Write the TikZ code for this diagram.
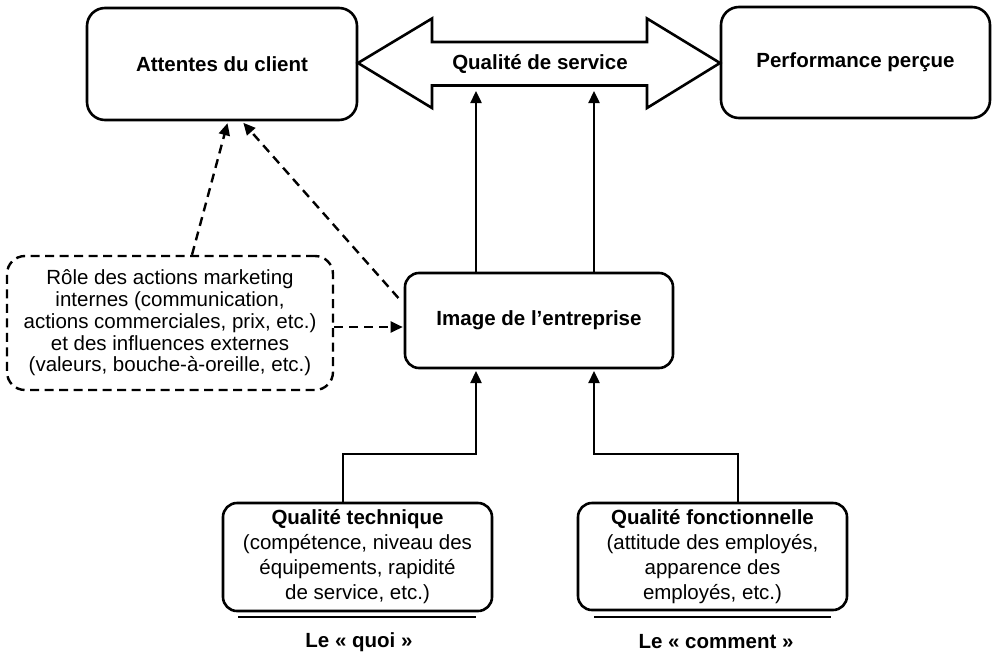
\documentclass[tikz,border=0pt]{standalone}
\usepackage{fontspec}
\setmainfont{Liberation Sans}
\usetikzlibrary{arrows.meta}
\begin{document}
\begin{tikzpicture}[x=1pt,y=-1pt,
  bigbox/.style={draw, line width=2.6pt, rounded corners=18pt, align=center, inner sep=0pt,
    font=\fontsize{20.5}{25}\selectfont\bfseries},
  midbox/.style={draw, line width=2.6pt, rounded corners=14pt, align=center, inner sep=0pt,
    font=\fontsize{20.5}{25}\selectfont},
  dashbox/.style={draw, line width=2.4pt, dash pattern=on 9pt off 5.5pt, rounded corners=18pt,
    align=center, inner sep=0pt, font=\fontsize{20.5}{21.7}\selectfont},
  lbl/.style={font=\fontsize{20.5}{25}\selectfont\bfseries, inner sep=0pt},
  arr/.style={line width=2.4pt, -{Triangle[length=12pt,width=11pt]}},
  darr/.style={line width=2.4pt, dash pattern=on 9pt off 6pt, -{Triangle[length=12pt,width=11pt]}},
  uline/.style={line width=2.8pt}]
\useasboundingbox (0,0) rectangle (992,653);

% top row
\node[bigbox, minimum width=270pt, minimum height=112pt] (att) at (222,64) {Attentes du client};
\node[bigbox, minimum width=269pt, minimum height=111pt] (perf) at (855.5,62.5) {Performance perçue};
\draw[line width=2.6pt, line join=miter]
  (358,63) -- (432,18.5) -- (432,42) -- (647,42) -- (647,18.5) -- (720,63)
  -- (647,108) -- (647,85.5) -- (432,85.5) -- (432,108) -- cycle;
\node[lbl] (qs) at (540,64) {Qualité de service};

% middle
\node[midbox, minimum width=268pt, minimum height=95pt, font=\fontsize{20.5}{25}\selectfont\bfseries] (img) at (539,320.5) {Image de l’entreprise};
\node[dashbox, minimum width=326pt, minimum height=134pt] (role) at (170,323)
  {Rôle des actions marketing\\internes (communication,\\actions commerciales, prix, etc.)\\et des influences externes\\(valeurs, bouche-à-oreille, etc.)};

% bottom
\node[midbox, minimum width=269pt, minimum height=108pt] (qt) at (357.5,557)
  {\textbf{Qualité technique}\\(compétence, niveau des\\équipements, rapidité\\de service, etc.)};
\node[midbox, minimum width=269pt, minimum height=107pt] (qf) at (712.5,556.5)
  {\textbf{Qualité fonctionnelle}\\(attitude des employés,\\apparence des\\employés, etc.)};
\draw[uline] (238,617) -- (476,617);
\draw[uline] (594,617) -- (831,617);
\node[lbl] (lq) at (359,642) {Le « quoi »};
\node[lbl] (lc) at (716,642) {Le « comment »};

% connectors
\coordinate (t1) at (476,91);
\coordinate (t2) at (594,91);
\draw[arr] (img.north -| t1) -- (t1);
\draw[arr] (img.north -| t2) -- (t2);

\coordinate (k1) at (343,454);
\coordinate (b1) at (476,371);
\coordinate (k2) at (738,454);
\coordinate (b2) at (594,371);
\draw[arr] (qt.north -| k1) -- (k1) -| (b1);
\draw[arr] (qf.north -| k2) -- (k2) -| (b2);

\draw[darr, shorten >=2pt] ([xshift=22pt]role.north) -- ([xshift=6pt]att.south);
\draw[darr, shorten >=2pt, shorten <=8pt] ([yshift=16.5pt]img.west) -- ([xshift=20pt]att.south);
\coordinate (hy) at (0,327);
\draw[darr, shorten >=1pt] (role.east |- hy) -- (img.west |- hy);
\end{tikzpicture}
\end{document}
